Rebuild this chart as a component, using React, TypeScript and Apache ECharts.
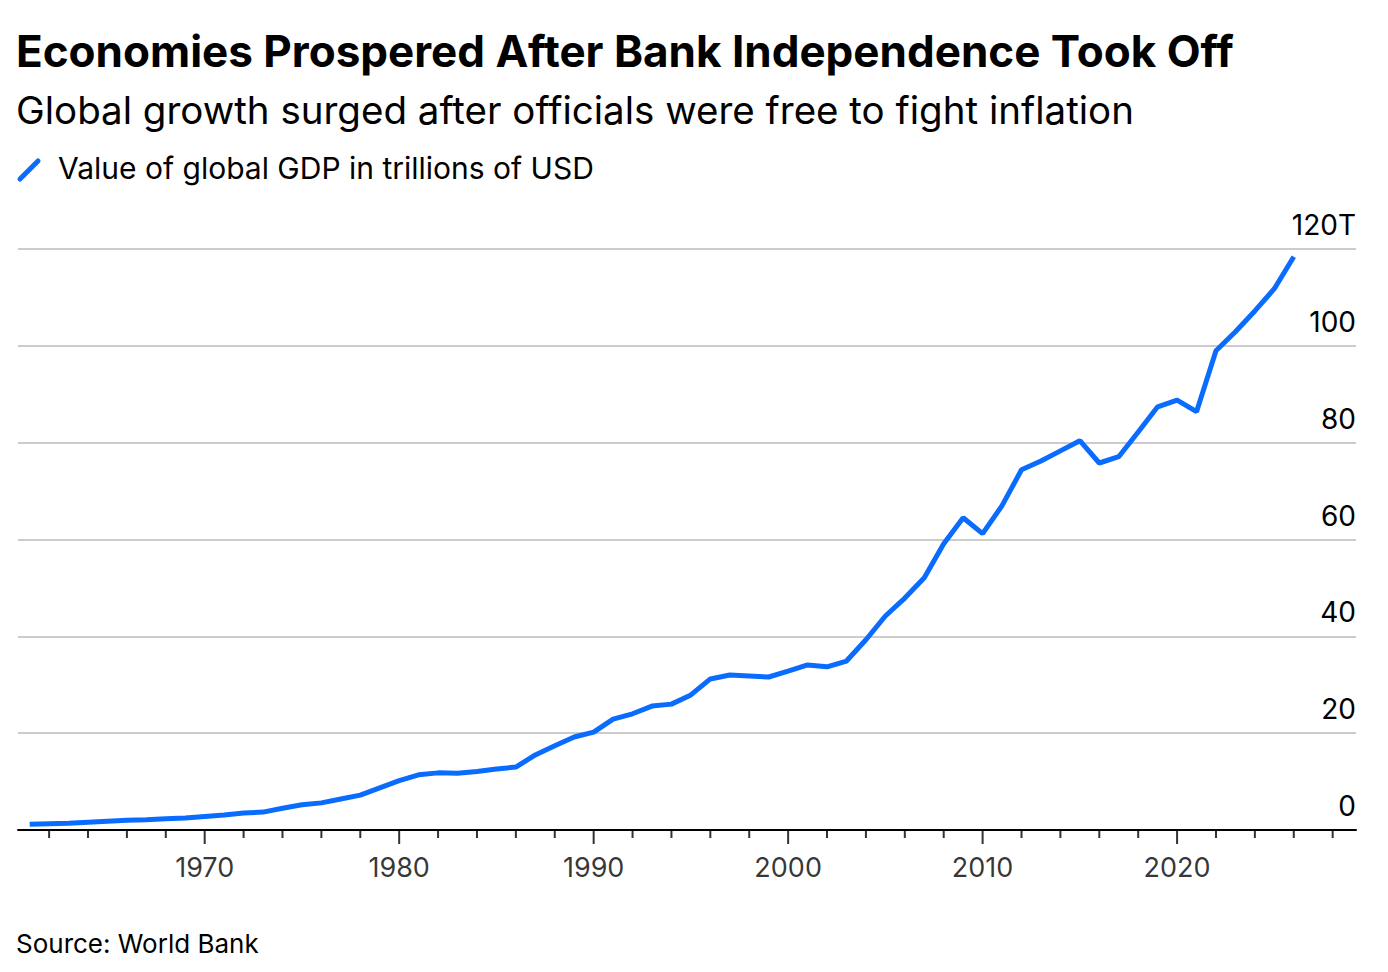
import React, { useEffect, useRef } from 'react';
import * as echarts from 'echarts';

// Years and global GDP (trillions USD)
const years = [
  1961, 1962, 1963, 1964, 1965, 1966, 1967, 1968, 1969, 1970,
  1971, 1972, 1973, 1974, 1975, 1976, 1977, 1978, 1979, 1980,
  1981, 1982, 1983, 1984, 1985, 1986, 1987, 1988, 1989, 1990,
  1991, 1992, 1993, 1994, 1995, 1996, 1997, 1998, 1999, 2000,
  2001, 2002, 2003, 2004, 2005, 2006, 2007, 2008, 2009, 2010,
  2011, 2012, 2013, 2014, 2015, 2016, 2017, 2018, 2019, 2020,
  2021, 2022, 2023, 2024, 2025, 2026,
];
const gdp = [
  1.2, 1.3, 1.4, 1.6, 1.8, 2.0, 2.1, 2.3, 2.5, 2.8,
  3.1, 3.5, 3.7, 4.5, 5.2, 5.6, 6.4, 7.2, 8.7, 10.2,
  11.4, 11.8, 11.7, 12.1, 12.6, 13.0, 15.5, 17.4, 19.2, 20.2,
  22.9, 24.0, 25.6, 26.0, 27.9, 31.2, 32.0, 31.8, 31.6, 32.8,
  34.1, 33.7, 34.9, 39.3, 44.2, 47.9, 52.1, 59.1, 64.5, 61.2,
  67.0, 74.4, 76.2, 78.3, 80.4, 75.8, 77.1, 82.2, 87.4, 88.8,
  86.4, 99.0, 102.9, 107.2, 111.8, 118.4,
];
// x-axis tick years (every two years, labelled each decade)
const tickYears = Array.from({ length: (2028 - 1962) / 2 + 1 }, (_, i) => 1962 + i * 2);

const BLUE = '#0a6cff';
const FONT = 'Inter, "Liberation Sans", sans-serif';

const App: React.FC = () => {
  const ref = useRef<HTMLDivElement>(null);

  useEffect(() => {
    if (!ref.current) return;
    const chart = echarts.init(ref.current, undefined, { renderer: 'svg' });
    chart.setOption({
      animation: false,
      textStyle: { fontFamily: FONT },
      grid: { left: 18, right: 32, top: 249, bottom: 142, containLabel: false },
      graphic: [
        { type: 'text', left: 16, top: 29, style: { text: 'Economies Prospered After Bank Independence Took Off', font: `bold 44px ${FONT}`, fill: '#000' } },
        { type: 'text', left: 16, top: 90, style: { text: 'Global growth surged after officials were free to fight inflation', font: `38.5px ${FONT}`, fill: '#000' } },
        { type: 'line', shape: { x1: 20, y1: 179, x2: 38, y2: 161 }, style: { stroke: BLUE, lineWidth: 5, lineCap: 'round' } },
        { type: 'text', left: 58, top: 153, style: { text: 'Value of global GDP in trillions of USD', font: `30px ${FONT}`, fill: '#000' } },
        { type: 'text', left: 16, top: 930, style: { text: 'Source: World Bank', font: `26px ${FONT}`, fill: '#000' } },
      ],
      xAxis: {
        type: 'value',
        min: 1960.4,
        max: 2029.2,
        axisLine: { show: true, lineStyle: { color: '#000', width: 2 } },
        axisTick: { show: false },
        splitLine: { show: false },
        axisLabel: { show: false },
      },
      yAxis: {
        type: 'value',
        position: 'right',
        min: 0,
        max: 120,
        interval: 20,
        axisLine: { show: false },
        axisTick: { show: false },
        splitLine: { lineStyle: { color: '#cccccc', width: 2 } },
        axisLabel: {
          inside: true,
          margin: 0,
          verticalAlign: 'bottom',
          padding: [0, 0, 10, 0],
          color: '#000',
          fontSize: 28,
          fontFamily: FONT,
          formatter: (v: number) => (v === 120 ? '120T' : String(v)),
        },
      },
      series: [
        {
          type: 'line',
          data: years.map((y, i) => [y, gdp[i]]),
          showSymbol: false,
          lineStyle: { color: BLUE, width: 5 },
          z: 3,
        },
        // Year ticks and decade labels drawn as a helper series on the axis
        {
          type: 'scatter',
          silent: true,
          symbol: 'rect',
          symbolSize: (d: number[]) => [2, d[0] % 10 === 0 ? 14 : 8],
          symbolOffset: (d: number[]) => [0, d[0] % 10 === 0 ? 7 : 4],
          itemStyle: { color: '#000' },
          label: {
            show: true,
            position: 'bottom',
            distance: 10,
            color: '#000',
            fontSize: 27,
            fontFamily: FONT,
            formatter: (p: any) => (p.value[0] % 10 === 0 ? String(p.value[0]) : ''),
          },
          data: tickYears.map((y) => [y, 0]),
          z: 2,
        },
      ],
    });
    return () => chart.dispose();
  }, []);

  return <div ref={ref} style={{ position: 'absolute', left: 0, top: 0, width: 1388, height: 972 }} />;
};

export default App;
